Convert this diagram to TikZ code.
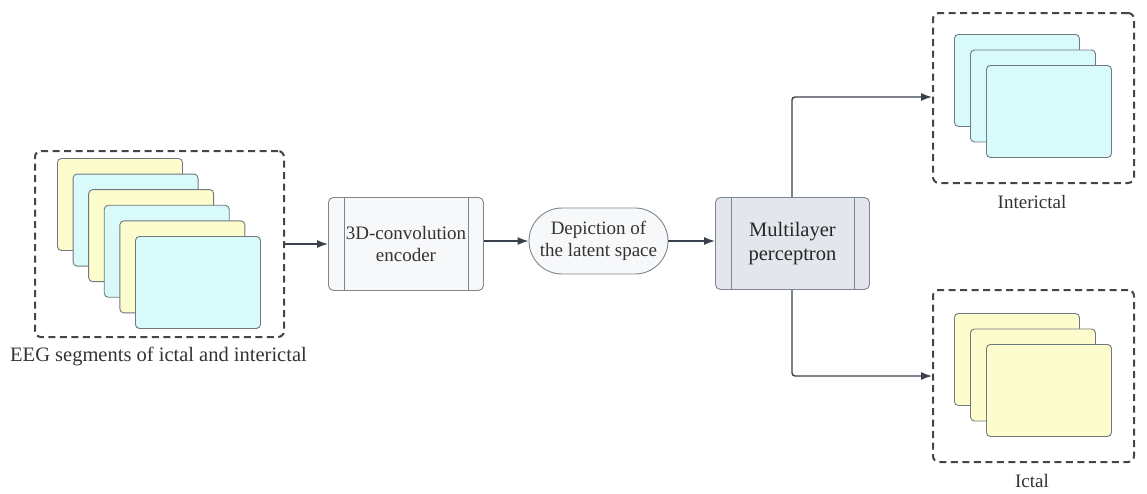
\documentclass[tikz,border=0pt]{standalone}
\usepackage{fontspec}
\setmainfont{Liberation Serif}
\usetikzlibrary{arrows.meta,shapes.misc,positioning}
\definecolor{cyanc}{HTML}{D8FAFA}
\definecolor{yelc}{HTML}{FDFCCD}
\definecolor{cardb}{HTML}{707880}
\definecolor{dashc}{HTML}{454545}
\definecolor{arrc}{HTML}{3A414C}
\definecolor{boxb}{HTML}{7F858D}
\definecolor{encf}{HTML}{F7F8FA}
\definecolor{mlpf}{HTML}{E3E6EC}
\definecolor{txtc}{HTML}{333333}
\tikzset{
  card/.style={draw=cardb, line width=0.9pt, rounded corners=4pt, minimum width=125pt, minimum height=92pt, anchor=north west, inner sep=0pt},
  cy/.style={card, fill=cyanc},
  ye/.style={card, fill=yelc},
  group/.style={draw=dashc, line width=2pt, dash pattern=on 7pt off 4.5pt, rounded corners=6pt, anchor=north west, inner sep=0pt},
  proc/.style={draw=boxb, line width=0.9pt, rounded corners=5pt, anchor=north west, inner sep=0pt, align=center, text=txtc, font=\fontsize{19}{22}\selectfont},
  conn/.style={draw=arrc, line width=1.4pt, -{Latex[length=11pt,width=8pt]}},
  lbl/.style={text=txtc, font=\fontsize{19}{22}\selectfont}
}
\begin{document}
\begin{tikzpicture}[x=1pt,y=-1pt]
\useasboundingbox (0,0) rectangle (1147,493);
% left group
\node[group, minimum width=249pt, minimum height=186pt] (gin) at (34,150) {};
\node[ye] (c1) at (57,158) {};
\node[cy] (c2) at (72.6,173.6) {};
\node[ye] (c3) at (88.2,189.2) {};
\node[cy] (c4) at (103.8,204.8) {};
\node[ye] (c5) at (119.4,220.4) {};
\node[cy] (c6) at (135,236) {};
\node[lbl, font=\fontsize{20.5}{24}\selectfont] (lin) at (158.5,356) {EEG segments of ictal and interictal};
% encoder
\node[proc, fill=encf, minimum width=155pt, minimum height=93pt] (enc) at (328,197) {};
\draw[draw=boxb, line width=0.9pt] ([xshift=16pt]enc.north west) -- ([xshift=16pt]enc.south west);
\draw[draw=boxb, line width=0.9pt] ([xshift=-15pt]enc.north east) -- ([xshift=-15pt]enc.south east);
\node[lbl, align=center] (enct) at (enc.center) {3D-convolution\\encoder};
% latent
\node[draw=boxb, line width=0.9pt, fill=encf, rounded rectangle, minimum width=139pt, minimum height=66pt, inner sep=0pt, align=center, text=txtc, font=\fontsize{19}{22}\selectfont] (lat) at (598.5,241) {Depiction of\\the latent space};
% MLP
\node[proc, fill=mlpf, minimum width=154pt, minimum height=92pt] (mlp) at (715,197) {};
\draw[draw=boxb, line width=0.9pt] ([xshift=16pt]mlp.north west) -- ([xshift=16pt]mlp.south west);
\draw[draw=boxb, line width=0.9pt] ([xshift=-15pt]mlp.north east) -- ([xshift=-15pt]mlp.south east);
\node[align=center, text=black!85, font=\fontsize{20.5}{24}\selectfont] (mlpt) at (mlp.center) {Multilayer\\perceptron};
% interictal group
\node[group, minimum width=201pt, minimum height=170pt] (gint) at (932,12) {};
\node[cy] (i1) at (954,34) {};
\node[cy] (i2) at (970,49.5) {};
\node[cy] (i3) at (986,65) {};
\node[lbl] (lint) at (1032,202) {Interictal};
% ictal group
\node[group, minimum width=201pt, minimum height=172pt] (gict) at (932,289) {};
\node[ye] (k1) at (954,313) {};
\node[ye] (k2) at (970,328.5) {};
\node[ye] (k3) at (986,344) {};
\node[lbl] (lict) at (1032,481) {Ictal};
% connectors
\draw[conn] (gin.east) -- (gin.east -| enc.west);
\draw[conn] (enc.east |- lat.east) -- (lat.east -| lat.west);
\draw[conn] (lat.east) -- (lat.east -| mlp.west);
\coordinate (up) at (792,97);
\coordinate (dn) at (792,376);
\draw[conn, rounded corners=3pt] (mlp.north -| up) -- (up) -- (up -| gint.west);
\draw[conn, rounded corners=3pt] (mlp.south -| dn) -- (dn) -- (dn -| gict.west);
\end{tikzpicture}
\end{document}
